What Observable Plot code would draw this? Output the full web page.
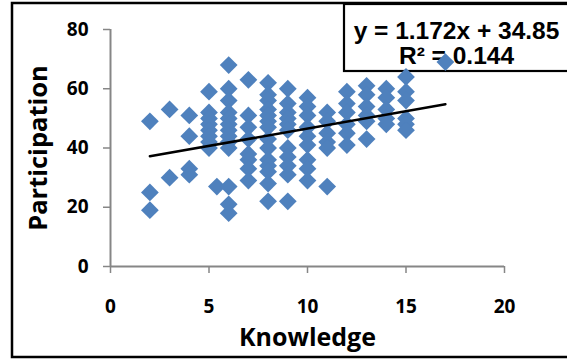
<!DOCTYPE html>
<html>
<head>
<meta charset="utf-8">
<script src="https://cdn.jsdelivr.net/npm/d3@7"></script>
<script src="https://cdn.jsdelivr.net/npm/@observablehq/plot@0.6"></script>
<style>
  html, body { margin: 0; padding: 0; background: #fff; }
  #chart { width: 567px; height: 362px; overflow: hidden; }
</style>
</head>
<body>
<div id="chart"></div>
<script>
// ---- data ----
const knowledge = [
  2, 2, 2,
  3, 3,
  4, 4, 4, 4,
  5, 5, 5, 5, 5, 5, 5, 5,
  5.4,
  6, 6, 6, 6, 6, 6, 6, 6, 6, 6, 6, 6, 6,
  7, 7, 7, 7, 7, 7, 7, 7,
  8, 8, 8, 8, 8, 8, 8, 8, 8, 8, 8, 8, 8, 8,
  9, 9, 9, 9, 9, 9, 9, 9, 9, 9, 9,
  10, 10, 10, 10, 10, 10, 10, 10, 10,
  11, 11, 11, 11, 11, 11,
  12, 12, 12, 12, 12, 12,
  13, 13, 13, 13, 13, 13,
  14, 14, 14, 14, 14,
  15, 15, 15, 15, 15, 15,
  17
];
const participation = [
  49, 25, 19,
  53, 30,
  51, 44, 33, 31,
  59, 52, 50, 48, 46, 44, 42, 40,
  27,
  68, 60, 56, 52, 50, 48, 46, 44, 42, 40, 27, 21, 18,
  63, 51, 47, 43, 38, 36, 33, 29,
  62, 58, 56, 53, 51, 49, 47, 43, 40, 36, 34, 32, 28, 22,
  60, 55, 52, 50, 48, 46, 40, 37, 34, 31, 22,
  57, 54, 51, 47, 44, 41, 36, 33, 29,
  52, 49, 45, 42, 40, 27,
  59, 55, 52, 48, 45, 41,
  61, 58, 54, 51, 49, 43,
  60, 57, 53, 50, 48,
  64, 59, 56, 50, 48, 46,
  69
];
const xTicks = [0, 5, 10, 15, 20];
const yTicks = [0, 20, 40, 60, 80];
const trendSlope = 1.172;
const trendIntercept = 34.85;
const trendRange = [2, 17];
const equationLines = ["y = 1.172x + 34.85", "R\u00B2 = 0.144"];
const xLabel = "Knowledge";
const yLabel = "Participation";

// ---- build tables ----
const points = knowledge.map((k, i) => ({k, p: participation[i]}));
const trend = trendRange.map(k => ({k, p: trendSlope * k + trendIntercept}));

const W = 567, H = 362;
const mL = 110, mR = 63, mT = 29, mB = 96;
const axisGray = "#868686";
const tickFont = "'Open Sans', 'DejaVu Sans', sans-serif";
const eqFont = "'Liberation Sans', Arial, sans-serif";

const plot = Plot.plot({
  width: W,
  height: H,
  marginLeft: mL,
  marginRight: mR,
  marginTop: mT,
  marginBottom: mB,
  style: {background: "transparent", overflow: "visible"},
  x: {domain: [0, 20], ticks: xTicks},
  y: {domain: [0, 80], ticks: yTicks},
  marks: [
    // equation text (under the points, as in the reference)
    Plot.text([equationLines[0]], {
      frameAnchor: "top-left", dx: 346, dy: 9, text: d => d,
      textAnchor: "middle", lineAnchor: "bottom",
      fontFamily: eqFont, fontWeight: "bold", fontSize: 24.5, fill: "#000"
    }),
    Plot.text([equationLines[1]], {
      frameAnchor: "top-left", dx: 346, dy: 34, text: d => d,
      textAnchor: "middle", lineAnchor: "bottom",
      fontFamily: eqFont, fontWeight: "bold", fontSize: 24.5, fill: "#000"
    }),
    // axes
    Plot.axisX(xTicks, {
      tickSize: 7, tickPadding: 26, stroke: axisGray, strokeWidth: 1.5,
      fontSize: 19, fontWeight: "bold", fontFamily: tickFont, color: "#000",
      label: null, tickFormat: d => String(d)
    }),
    Plot.axisY(yTicks, {
      tickSize: 7, tickPadding: 15, stroke: axisGray, strokeWidth: 1.5,
      fontSize: 19, fontWeight: "bold", fontFamily: tickFont, color: "#000",
      label: null, tickFormat: d => String(d)
    }),
    Plot.ruleY([0], {x1: 0, x2: 20, stroke: axisGray, strokeWidth: 2}),
    Plot.ruleX([0], {y1: 0, y2: 80, stroke: axisGray, strokeWidth: 2}),
    // axis titles
    Plot.text([xLabel], {
      frameAnchor: "bottom", dy: 71, text: d => d,
      textAnchor: "middle", lineAnchor: "middle",
      fontFamily: tickFont, fontWeight: "bold", fontSize: 25, fill: "#000"
    }),
    Plot.text([yLabel], {
      frameAnchor: "left", dx: -72, rotate: -90, text: d => d,
      textAnchor: "middle", lineAnchor: "middle",
      fontFamily: tickFont, fontWeight: "bold", fontSize: 25.5, fill: "#000"
    }),
    // points
    Plot.dot(points, {
      x: "k", y: "p", symbol: "diamond2", r: 8,
      fill: "#4F81BD", stroke: "none"
    }),
    // trend line (drawn over the points, as in the reference)
    Plot.line(trend, {x: "k", y: "p", stroke: "#000", strokeWidth: 2.5})
  ]
});

// chart-area frame and equation box (decoration, placed beneath the marks)
const g = d3.create("svg:g");
g.append("rect").attr("x", 0).attr("y", 0).attr("width", W).attr("height", H).attr("fill", "#fff");
g.append("rect").attr("x", 12).attr("y", 3).attr("width", 620).attr("height", 354)
  .attr("fill", "none").attr("stroke", "#000").attr("stroke-width", 2.5);
g.append("rect").attr("x", 344).attr("y", 4).attr("width", 260).attr("height", 67)
  .attr("fill", "#fff").attr("stroke", "#000").attr("stroke-width", 2.2);
plot.insertBefore(g.node(), plot.firstChild);

document.getElementById("chart").appendChild(plot);
</script>
</body>
</html>
